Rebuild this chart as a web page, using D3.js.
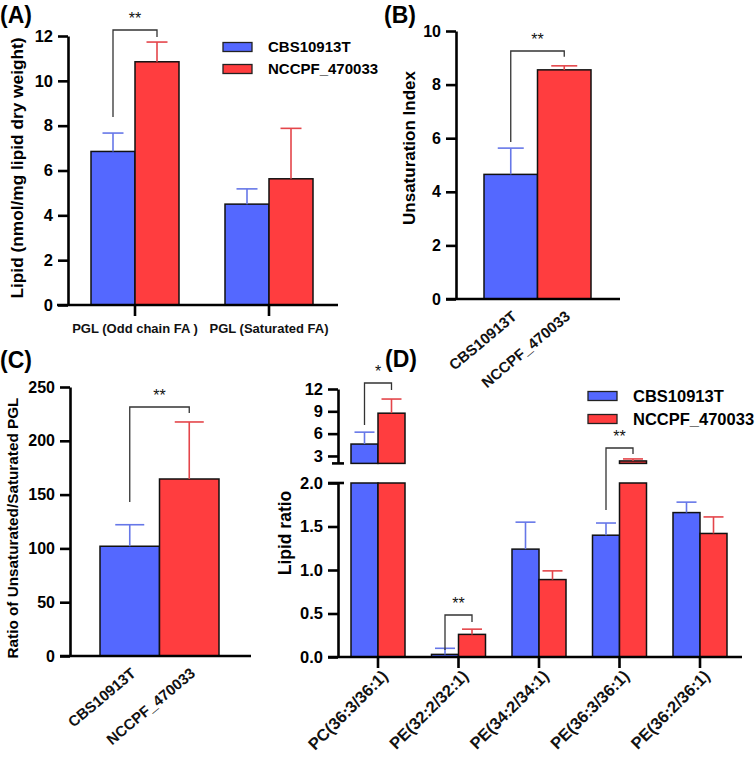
<!DOCTYPE html>
<html>
<head>
<meta charset="utf-8">
<script src="https://cdn.jsdelivr.net/npm/d3@7"></script>
<style>
  body { margin: 0; background: #fff; }
  svg { display: block; font-family: "Liberation Sans", Arial, sans-serif; }
</style>
</head>
<body>
<svg id="chart" width="756" height="760"></svg>
<script>
// ---------------- DATA ----------------
const seriesNames = ["CBS10913T", "NCCPF_470033"];

// Panel A
const groupsA = ["PGL (Odd chain FA )", "PGL (Saturated FA)"];
const aCBS = [6.85, 4.5];
const aCBSErr = [0.82, 0.68];
const aNCC = [10.85, 5.63];
const aNCCErr = [0.88, 2.25];
const ticksA = [0, 2, 4, 6, 8, 10, 12];

// Panel B
const bValues = [4.65, 8.55];
const bErr = [0.98, 0.15];
const ticksB = [0, 2, 4, 6, 8, 10];

// Panel C
const cValues = [102, 164.5];
const cErr = [20, 53];
const ticksC = [0, 50, 100, 150, 200, 250];

// Panel D
const categoriesD = ["PC(36:3/36:1)", "PE(32:2/32:1)", "PE(34:2/34:1)", "PE(36:3/36:1)", "PE(36:2/36:1)"];
const dCBS = [4.6, 0.03, 1.24, 1.40, 1.66];
const dCBSErr = [1.6, 0.07, 0.31, 0.14, 0.12];
const dNCC = [8.75, 0.26, 0.89, 2.33, 1.42];
const dNCCErr = [1.9, 0.06, 0.10, 0.27, 0.19];
const ticksDTop = [3, 6, 9, 12];
const ticksDBottom = [0, 0.5, 1.0, 1.5, 2.0];

// ---------------- STYLE ----------------
const BLUE = "#5468ff";
const RED = "#ff3d3f";
const BLUE_ERR = "#6677e8";
const RED_ERR = "#e4454a";
const FONT = "'Liberation Sans', Arial, sans-serif";
const svg = d3.select("#chart");

function styleAxis(g, fontSize) {
  g.select(".domain").attr("stroke", "#000").attr("stroke-width", 2.6);
  g.selectAll(".tick line").attr("stroke", "#000").attr("stroke-width", 2.6);
  g.selectAll(".tick text").attr("fill", "#000").attr("font-size", fontSize)
    .attr("font-weight", "bold").attr("font-family", FONT);
}

function bar(g, x, w, y0, y1, fill) {
  g.append("rect").attr("x", x).attr("y", Math.min(y0, y1)).attr("width", w)
    .attr("height", Math.abs(y0 - y1)).attr("fill", fill)
    .attr("stroke", "#111").attr("stroke-width", 1.5);
}

function errBar(g, cx, yTop, yBar, cap, color) {
  g.append("line").attr("x1", cx).attr("x2", cx).attr("y1", yBar).attr("y2", yTop)
    .attr("stroke", color).attr("stroke-width", 1.6);
  g.append("line").attr("x1", cx - cap / 2).attr("x2", cx + cap / 2).attr("y1", yTop).attr("y2", yTop)
    .attr("stroke", color).attr("stroke-width", 1.6);
}

function bracket(g, x1, y1, x2, y2, yTop, label, fs) {
  g.append("path")
    .attr("d", `M${x1},${y1}V${yTop}H${x2}V${y2}`)
    .attr("fill", "none").attr("stroke", "#333").attr("stroke-width", 1.3);
  g.append("text").attr("x", (x1 + x2) / 2).attr("y", yTop - 6)
    .attr("text-anchor", "middle").attr("font-size", fs || 16).attr("font-family", FONT)
    .attr("fill", "#111").text(label);
}

function panelLabel(x, y, t) {
  svg.append("text").attr("x", x).attr("y", y).attr("font-size", 23)
    .attr("font-weight", "bold").attr("font-family", FONT).attr("fill", "#000").text(t);
}

function yTitle(x, y, t, fs) {
  svg.append("text").attr("transform", `translate(${x},${y}) rotate(-90)`)
    .attr("text-anchor", "middle").attr("font-size", fs).attr("font-weight", "bold")
    .attr("font-family", FONT).attr("fill", "#000").text(t);
}

function legend(x, y, fs, gap) {
  const colors = [BLUE, RED];
  seriesNames.forEach((n, i) => {
    svg.append("rect").attr("x", x).attr("y", y + i * gap - 4.5).attr("width", 29).attr("height", 9)
      .attr("fill", colors[i]).attr("stroke", "#222").attr("stroke-width", 1.3);
    svg.append("text").attr("x", x + 45).attr("y", y + i * gap).attr("dy", "0.35em")
      .attr("font-size", fs).attr("font-weight", "bold").attr("font-family", FONT)
      .attr("fill", "#000").text(n);
  });
}

// ---------------- PANEL A ----------------
(function () {
  const g = svg.append("g");
  const y = d3.scaleLinear().domain([0, 12]).range([305, 36]);
  const x = d3.scaleBand().domain(groupsA).range([68, 336]).padding(0);
  const bw = 44;
  const yAx = g.append("g").attr("transform", "translate(68,0)")
    .call(d3.axisLeft(y).tickValues(ticksA).tickSize(10).tickSizeOuter(0).tickPadding(5));
  styleAxis(yAx, 16.5);
  groupsA.forEach((grp, i) => {
    const c = x(grp) + x.bandwidth() / 2;
    bar(g, c - bw, bw, y(0), y(aCBS[i]), BLUE);
    bar(g, c, bw, y(0), y(aNCC[i]), RED);
    errBar(g, c - bw / 2, y(aCBS[i] + aCBSErr[i]), y(aCBS[i]), 21, BLUE_ERR);
    errBar(g, c + bw / 2, y(aNCC[i] + aNCCErr[i]), y(aNCC[i]), 21, RED_ERR);
  });
  const xAx = g.append("g").attr("transform", "translate(0,305)")
    .call(d3.axisBottom(x).tickSize(11).tickSizeOuter(0).tickFormat(""));
  styleAxis(xAx, 12);
  xAx.select(".domain").remove();
  g.append("line").attr("x1", 57).attr("x2", 338).attr("y1", 305).attr("y2", 305)
    .attr("stroke", "#000").attr("stroke-width", 2.6);
  groupsA.forEach(grp => {
    g.append("text").attr("x", x(grp) + x.bandwidth() / 2).attr("y", 333)
      .attr("text-anchor", "middle").attr("font-size", 13).attr("font-weight", "bold")
      .attr("font-family", FONT).attr("fill", "#111").text(grp);
  });
  const c0 = x(groupsA[0]) + x.bandwidth() / 2;
  bracket(g, c0 - bw / 2, y(aCBS[0] + aCBSErr[0]) - 16, c0 + bw / 2, y(aNCC[0] + aNCCErr[0]) - 5, 30, "**");
  yTitle(23, 168, "Lipid (nmol/mg lipid dry weight)", 17.3);
  legend(223, 47, 15, 22);
  panelLabel(0, 23, "(A)");
})();

// ---------------- PANEL B ----------------
(function () {
  const g = svg.append("g");
  const y = d3.scaleLinear().domain([0, 10]).range([299, 31]);
  const x = d3.scaleBand().domain(seriesNames).range([484, 591]).padding(0);
  const yAx = g.append("g").attr("transform", "translate(456,0)")
    .call(d3.axisLeft(y).tickValues(ticksB).tickSize(10).tickSizeOuter(0).tickPadding(5));
  styleAxis(yAx, 16);
  const colors = [BLUE, RED], ecol = [BLUE_ERR, RED_ERR];
  seriesNames.forEach((s, i) => {
    bar(g, x(s), x.bandwidth(), y(0), y(bValues[i]), colors[i]);
    errBar(g, x(s) + x.bandwidth() / 2, y(bValues[i] + bErr[i]), y(bValues[i]), 26, ecol[i]);
  });
  g.append("line").attr("x1", 446).attr("x2", 620).attr("y1", 299).attr("y2", 299)
    .attr("stroke", "#000").attr("stroke-width", 2.6);
  seriesNames.forEach(s => {
    const cx = x(s) + x.bandwidth() / 2;
    g.append("text").attr("transform", `translate(${cx + 7},${318}) rotate(-40)`)
      .attr("text-anchor", "end").attr("font-size", 15).attr("font-weight", "bold")
      .attr("font-family", FONT).attr("fill", "#111").text(s);
  });
  const c0 = x(seriesNames[0]) + x.bandwidth() / 2, c1 = x(seriesNames[1]) + x.bandwidth() / 2;
  bracket(g, c0, y(bValues[0] + bErr[0]) - 6, c1, y(bValues[1] + bErr[1]) - 9, 51, "**");
  yTitle(415, 148, "Unsaturation Index", 17);
  panelLabel(384, 23, "(B)");
})();

// ---------------- PANEL C ----------------
(function () {
  const g = svg.append("g");
  const y = d3.scaleLinear().domain([0, 250]).range([656, 387]);
  const x = d3.scaleBand().domain(seriesNames).range([100, 219]).padding(0);
  const yAx = g.append("g").attr("transform", "translate(70,0)")
    .call(d3.axisLeft(y).tickValues(ticksC).tickSize(10).tickSizeOuter(0).tickPadding(5));
  styleAxis(yAx, 16);
  const colors = [BLUE, RED], ecol = [BLUE_ERR, RED_ERR];
  seriesNames.forEach((s, i) => {
    bar(g, x(s), x.bandwidth(), y(0), y(cValues[i]), colors[i]);
    errBar(g, x(s) + x.bandwidth() / 2, y(cValues[i] + cErr[i]), y(cValues[i]), 29, ecol[i]);
  });
  g.append("line").attr("x1", 60).attr("x2", 251).attr("y1", 656).attr("y2", 656)
    .attr("stroke", "#000").attr("stroke-width", 2.6);
  seriesNames.forEach(s => {
    const cx = x(s) + x.bandwidth() / 2;
    g.append("text").attr("transform", `translate(${cx + 7},${675}) rotate(-40)`)
      .attr("text-anchor", "end").attr("font-size", 15).attr("font-weight", "bold")
      .attr("font-family", FONT).attr("fill", "#111").text(s);
  });
  const c0 = x(seriesNames[0]) + x.bandwidth() / 2, c1 = x(seriesNames[1]) + x.bandwidth() / 2;
  bracket(g, c0, 502, c1, 413, 407, "**");
  yTitle(18, 528, "Ratio of Unsaturated/Saturated PGL", 15.3);
  panelLabel(0, 368, "(C)");
})();

// ---------------- PANEL D ----------------
(function () {
  const g = svg.append("g");
  const yTop = d3.scaleLinear().domain([2, 12]).range([463.4, 389]);
  const yBot = d3.scaleLinear().domain([0, 2]).range([657, 483]);
  const x = d3.scaleBand().domain(categoriesD).range([337.75, 740.25]).padding(0);
  const bw = 27;
  const axX = 338;
  const topAx = g.append("g").attr("transform", `translate(${axX},0)`)
    .call(d3.axisLeft(yTop).tickValues(ticksDTop).tickSize(10).tickSizeOuter(0).tickPadding(5));
  styleAxis(topAx, 16.5);
  const botAx = g.append("g").attr("transform", `translate(${axX},0)`)
    .call(d3.axisLeft(yBot).tickValues(ticksDBottom).tickSize(10).tickSizeOuter(0).tickPadding(5)
      .tickFormat(d3.format(".1f")));
  styleAxis(botAx, 16.5);
  g.append("line").attr("x1", axX - 6).attr("x2", axX + 6).attr("y1", yTop(2)).attr("y2", yTop(2))
    .attr("stroke", "#000").attr("stroke-width", 2.6);
  g.append("line").attr("x1", axX - 10).attr("x2", axX + 6).attr("y1", yBot(2)).attr("y2", yBot(2))
    .attr("stroke", "#000").attr("stroke-width", 2.6);

  const colors = [BLUE, RED], ecol = [BLUE_ERR, RED_ERR];
  categoriesD.forEach((cat, i) => {
    const c = x(cat) + x.bandwidth() / 2;
    [[dCBS[i], dCBSErr[i]], [dNCC[i], dNCCErr[i]]].forEach(([v, e], k) => {
      const bx = k === 0 ? c - bw : c;
      bar(g, bx, bw, yBot(0), yBot(Math.min(v, 2)), colors[k]);
      if (v > 2) {
        bar(g, bx, bw, yTop(2), yTop(v), colors[k]);
        errBar(g, bx + bw / 2, yTop(v + e), yTop(v), 20, ecol[k]);
      } else {
        errBar(g, bx + bw / 2, yBot(Math.min(v + e, 2)), yBot(v), 20, ecol[k]);
      }
    });
  });
  const xAx = g.append("g").attr("transform", "translate(0,657)")
    .call(d3.axisBottom(x).tickSize(11).tickSizeOuter(0).tickFormat(""));
  styleAxis(xAx, 12);
  xAx.select(".domain").remove();
  g.append("line").attr("x1", 328).attr("x2", 742).attr("y1", 657).attr("y2", 657)
    .attr("stroke", "#000").attr("stroke-width", 2.6);
  categoriesD.forEach(cat => {
    const c = x(cat) + x.bandwidth() / 2;
    g.append("text").attr("transform", `translate(${c + 11},${677}) rotate(-45)`)
      .attr("text-anchor", "end").attr("font-size", 16.5).attr("font-weight", "bold")
      .attr("font-family", FONT).attr("fill", "#111").text(cat);
  });
  const cx = i => x(categoriesD[i]) + x.bandwidth() / 2;
  bracket(g, cx(0) - bw / 2, 425, cx(0) + bw / 2, 390, 383, "*");
  bracket(g, cx(1) - bw / 2, 650, cx(1) + bw / 2, 622, 615, "**");
  bracket(g, cx(3) - bw / 2, 510, cx(3) + bw / 2, 454, 448, "**");
  yTitle(291, 533, "Lipid ratio", 17.5);
  legend(588, 396, 16.5, 23);
  panelLabel(385, 367, "(D)");
})();
</script>
</body>
</html>
